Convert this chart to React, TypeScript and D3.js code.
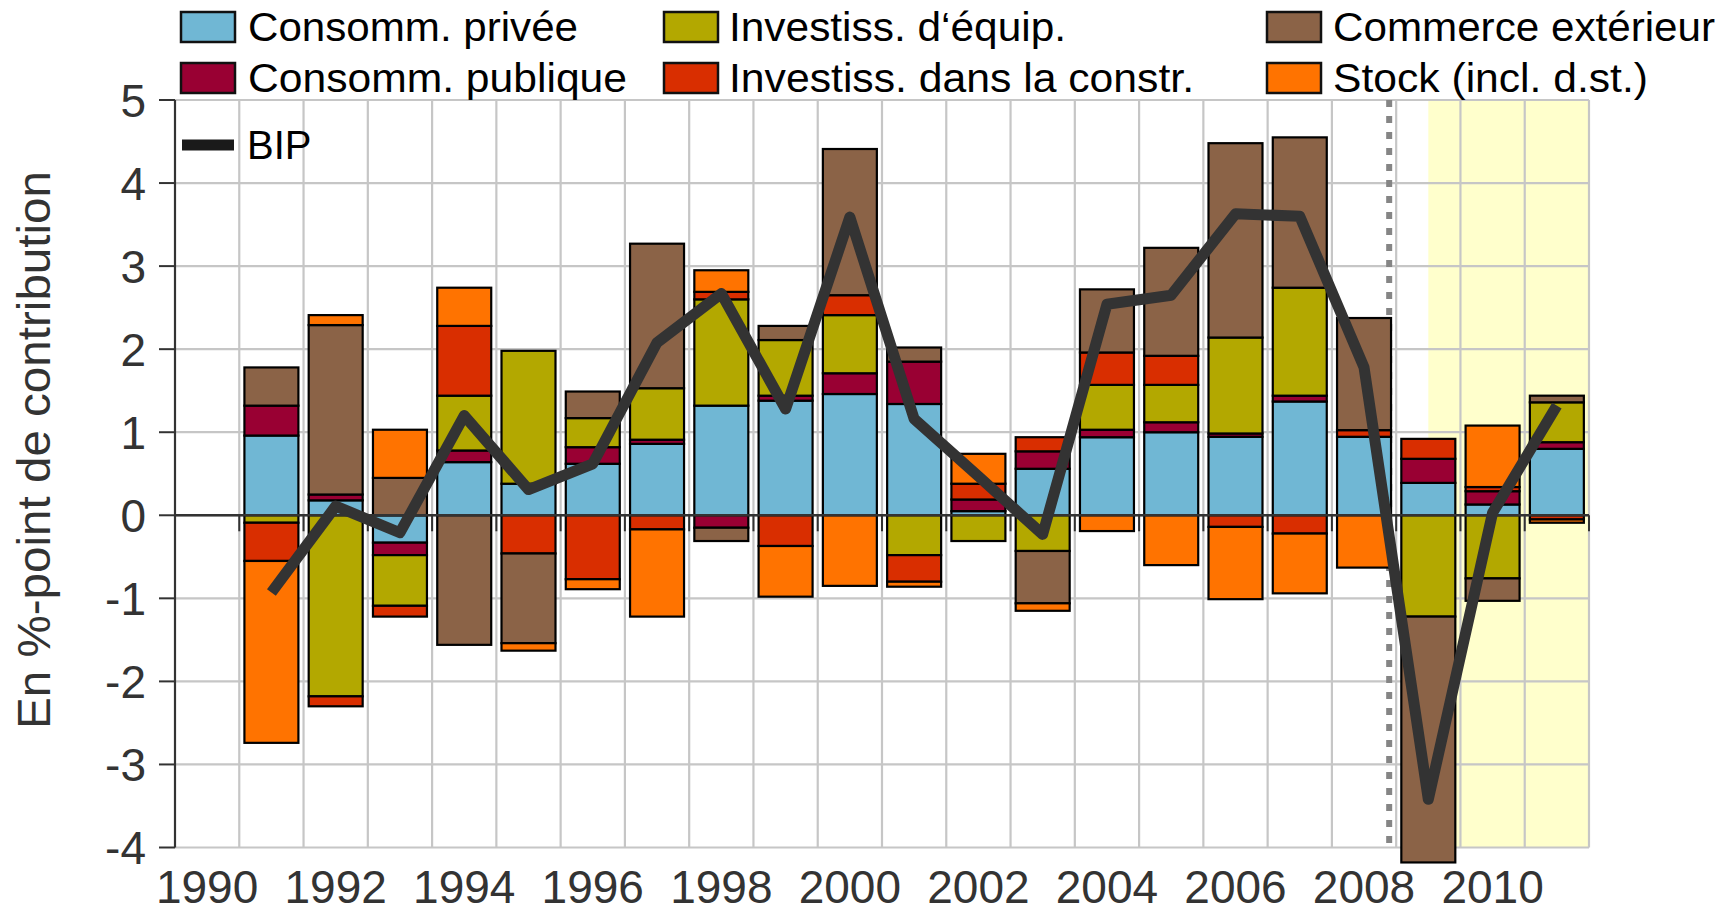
import React from 'react';
import * as d3 from 'd3';

// ---------- data ----------
const categories = ['1990','1991','1992','1993','1994','1995','1996','1997','1998','1999','2000','2001','2002','2003','2004','2005','2006','2007','2008','2009','2010','2011'];
const dataYears = ['1991','1992','1993','1994','1995','1996','1997','1998','1999','2000','2001','2002','2003','2004','2005','2006','2007','2008','2009','2010','2011'];

const consPrivee   = [0.96, 0.18, -0.33, 0.64, 0.38, 0.62, 0.86, 1.32, 1.38, 1.46, 1.34, 0.05, 0.56, 0.94, 1.00, 0.945, 1.37, 0.945, 0.39, 0.13, 0.80];
const consPublique = [0.36, 0.07, -0.15, 0.14, 0.00, 0.20, 0.05, -0.15, 0.06, 0.25, 0.51, 0.14, 0.21, 0.09, 0.12, 0.04, 0.07, 0.00, 0.29, 0.16, 0.08];
const investEquip  = [-0.09, -2.18, -0.61, 0.66, 1.60, 0.35, 0.62, 1.28, 0.67, 0.70, -0.48, -0.31, -0.43, 0.54, 0.45, 1.155, 1.30, 0.00, -1.22, -0.76, 0.48];
const investConstr = [-0.46, -0.12, -0.13, 0.84, -0.46, -0.77, -0.17, 0.09, -0.37, 0.24, -0.32, 0.19, 0.17, 0.39, 0.35, -0.14, -0.22, 0.08, 0.24, 0.05, -0.05];
const commerceExt  = [0.46, 2.04, 0.45, -1.56, -1.08, 0.32, 1.74, -0.16, 0.17, 1.76, 0.17, 0.00, -0.63, 0.76, 1.30, 2.34, 1.81, 1.35, -2.96, -0.27, 0.08];
const stock        = [-2.19, 0.12, 0.58, 0.46, -0.09, -0.12, -1.05, 0.26, -0.61, -0.85, -0.06, 0.36, -0.09, -0.19, -0.60, -0.87, -0.72, -0.63, 0.00, 0.74, -0.04];
const bip          = [-0.93, 0.11, -0.21, 1.20, 0.31, 0.62, 2.08, 2.67, 1.28, 3.59, 1.16, 0.47, -0.23, 2.54, 2.65, 3.63, 3.60, 1.78, -3.42, 0.03, 1.32];

const yTicks = [-4, -3, -2, -1, 0, 1, 2, 3, 4, 5];
const xLabels = ['1990', '1992', '1994', '1996', '1998', '2000', '2002', '2004', '2006', '2008', '2010'];

const seriesKeys = ['privee', 'publique', 'equip', 'constr', 'commerce', 'stock'];
const seriesValues: Record<string, number[]> = {
  privee: consPrivee,
  publique: consPublique,
  equip: investEquip,
  constr: investConstr,
  commerce: commerceExt,
  stock: stock,
};
const seriesNames: Record<string, string> = {
  privee: 'Consomm. privée',
  publique: 'Consomm. publique',
  equip: 'Investiss. d‘équip.',
  constr: 'Investiss. dans la constr.',
  commerce: 'Commerce extérieur',
  stock: 'Stock (incl. d.st.)',
};
const seriesColors: Record<string, string> = {
  privee: '#70b7d4',
  publique: '#990033',
  equip: '#b3a800',
  constr: '#d92e00',
  commerce: '#8b6347',
  stock: '#ff7300',
};

// ---------- layout ----------
const W = 1733;
const H = 914;
const left = 175;
const right = 1589;
const top = 100;
const bottom = 847.5;
const FONT = '"Liberation Sans", Arial, Helvetica, sans-serif';

export default function App() {
  const x = d3.scaleBand<string>().domain(categories).range([left, right]).padding(0);
  const step = x.step();
  const barW = step * 0.84;
  const y = d3.scaleLinear().domain([-4, 5]).range([bottom, top]);

  const rows = dataYears.map((yr, i) => {
    const r: any = { year: yr };
    seriesKeys.forEach((k) => (r[k] = seriesValues[k][i]));
    return r;
  });
  const stacked = d3.stack<any>().keys(seriesKeys).offset(d3.stackOffsetDiverging)(rows);

  const line = d3
    .line<number>()
    .x((_, i) => (x(dataYears[i]) as number) + step / 2)
    .y((d) => y(d));

  const shadeStart = (x('2009') as number) + step / 2;
  const dottedX = (x('2009') as number) - 7;

  const legendCols = [181, 664, 1267];
  const legendTextX = [248, 729, 1333];
  const legendRowsY = [12, 63];
  const legendLayout = [
    { k: 'privee', c: 0, r: 0, w: 330 },
    { k: 'publique', c: 0, r: 1, w: 379 },
    { k: 'equip', c: 1, r: 0, w: 337 },
    { k: 'constr', c: 1, r: 1, w: 465 },
    { k: 'commerce', c: 2, r: 0, w: 382 },
    { k: 'stock', c: 2, r: 1, w: 315 },
  ];

  return (
    <svg
      width={W}
      height={H}
      style={{ position: 'fixed', left: 0, top: 0, background: '#fff' }}
      fontFamily={FONT}
    >
      <rect x={0} y={0} width={W} height={H} fill="#fff" />
      {/* forecast shading */}
      <rect x={shadeStart} y={top} width={right - shadeStart} height={bottom - top} fill="#ffffcc" />

      {/* horizontal gridlines */}
      {yTicks.map((t) => (
        <line key={'hg' + t} x1={left} x2={right} y1={y(t)} y2={y(t)} stroke="#c6c6c6" strokeWidth={2.2} />
      ))}
      {/* vertical gridlines */}
      {categories.map((c, i) => (
        <line
          key={'vg' + c}
          x1={left + (i + 1) * step}
          x2={left + (i + 1) * step}
          y1={top}
          y2={bottom}
          stroke="#c6c6c6"
          strokeWidth={2.2}
        />
      ))}

      {/* dotted separator */}
      <line x1={dottedX} x2={dottedX} y1={top} y2={bottom} stroke="#858585" strokeWidth={6} strokeDasharray="7 9" />

      {/* x-axis ticks at zero */}
      {categories.map((c, i) => (
        <line key={'xt' + c} x1={left + i * step} x2={left + i * step} y1={y(0)} y2={y(0) + 16} stroke="#333" strokeWidth={2} />
      ))}
      <line x1={right} x2={right} y1={y(0)} y2={y(0) + 16} stroke="#333" strokeWidth={2} />

      {/* bars */}
      {stacked.map((s) =>
        s.map((d, j) => {
          const v0 = d[0];
          const v1 = d[1];
          if (Math.abs(v1 - v0) < 1e-9) return null;
          const yr = dataYears[j];
          const yTop = y(Math.max(v0, v1));
          const yBot = y(Math.min(v0, v1));
          return (
            <rect
              key={s.key + yr}
              x={(x(yr) as number) + (step - barW) / 2}
              y={yTop}
              width={barW}
              height={yBot - yTop}
              fill={seriesColors[s.key]}
              stroke="#000"
              strokeWidth={2.2}
            />
          );
        })
      )}

      {/* zero line */}
      <line x1={left} x2={right} y1={y(0)} y2={y(0)} stroke="#333" strokeWidth={2.5} />

      {/* y axis */}
      <line x1={left} x2={left} y1={top} y2={bottom} stroke="#333" strokeWidth={2.2} />
      {yTicks.map((t) => (
        <g key={'yt' + t}>
          <line x1={left - 16} x2={left} y1={y(t)} y2={y(t)} stroke="#333" strokeWidth={2} />
          <text x={146} y={y(t) + 16.5} textAnchor="end" fontSize={46} fill="#333">
            {t < 0 ? '-' + Math.abs(t) : String(t)}
          </text>
        </g>
      ))}

      {/* x labels */}
      {xLabels.map((l) => (
        <text key={'xl' + l} x={(x(l) as number) + step / 2} y={903} textAnchor="middle" fontSize={46} fill="#333">
          {l}
        </text>
      ))}

      {/* y title */}
      <text
        transform={`translate(50,450) rotate(-90)`}
        textAnchor="middle"
        fontSize={46}
        fill="#333"
        textLength={558}
        lengthAdjust="spacingAndGlyphs"
      >
        En %-point de contribution
      </text>

      {/* BIP line */}
      <path d={line(bip) || ''} fill="none" stroke="#333" strokeWidth={11} strokeLinejoin="round" />

      {/* legend */}
      {legendLayout.map((it) => (
        <g key={'lg' + it.k}>
          <rect
            x={legendCols[it.c]}
            y={legendRowsY[it.r]}
            width={54}
            height={30}
            fill={seriesColors[it.k]}
            stroke="#111"
            strokeWidth={2.5}
          />
          <text
            x={legendTextX[it.c]}
            y={legendRowsY[it.r] + 29}
            fontSize={40}
            fill="#000"
            textLength={it.w}
            lengthAdjust="spacingAndGlyphs"
          >
            {seriesNames[it.k]}
          </text>
        </g>
      ))}
      <line x1={182} x2={234} y1={145} y2={145} stroke="#1a1a1a" strokeWidth={11} />
      <text x={247} y={159} fontSize={40} fill="#000">
        BIP
      </text>
    </svg>
  );
}
